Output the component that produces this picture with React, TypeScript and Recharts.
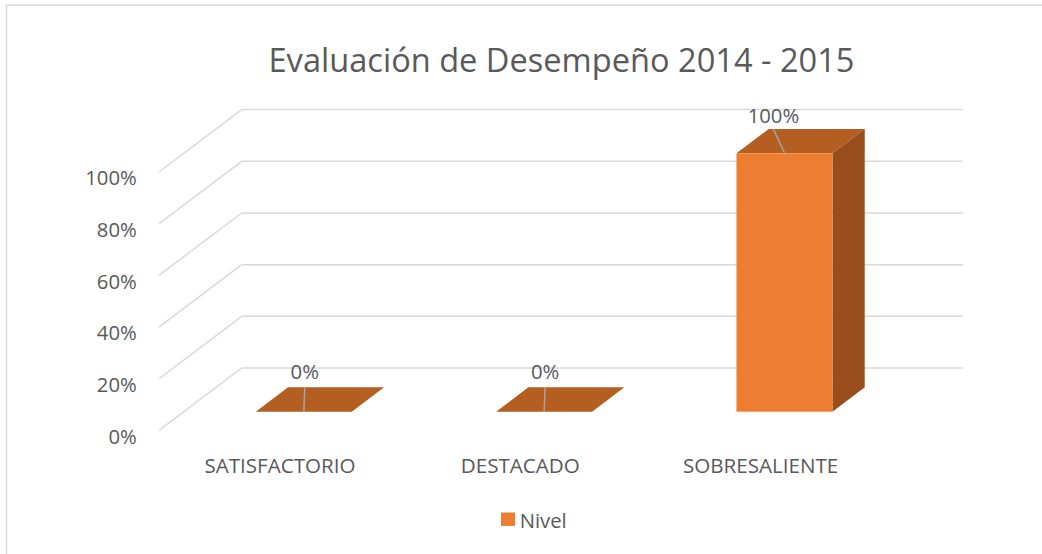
import React from 'react';
import { BarChart, Bar, XAxis, YAxis, CartesianGrid, Legend, LabelList } from 'recharts';

// ---- data ----
const categories = ['SATISFACTORIO', 'DESTACADO', 'SOBRESALIENTE'];
const nivel = [0, 0, 1];
const yTicks = [0, 0.2, 0.4, 0.6, 0.8, 1];
const seriesName = 'Nivel';
const chartTitle = 'Evaluación de Desempeño 2014 - 2015';

const data = categories.map((c, i) => ({ name: c, [seriesName]: nivel[i] }));

// ---- style ----
const FONT = "'Open Sans', sans-serif";
const TEXT = '#595959';
const GRID = '#D9D9D9';
const FRONT = '#ED7D31';
const TOP = '#B55E22';
const SIDE = '#994C1C';
const LEADER = '#A6A6A6';

// 3D projection of floor depth (back wall -> front edge)
const FLOOR_DX = 82.7;
const FLOOR_DY = 62.4;
const FRONT_FRAC = 0.7; // bar front plane measured from back wall
const BACK_FRAC = 0.31; // bar back plane measured from back wall
const wallDx = FLOOR_DX * FRONT_FRAC;
const wallDy = FLOOR_DY * FRONT_FRAC;
const frontDx = FLOOR_DX * (1 - FRONT_FRAC);
const frontDy = FLOOR_DY * (1 - FRONT_FRAC);
const barDx = FLOOR_DX * (FRONT_FRAC - BACK_FRAC);
const barDy = FLOOR_DY * (FRONT_FRAC - BACK_FRAC);

const pct = (v: number) => `${Math.round(v * 100)}%`;

const gridLine = (p: any) => {
  const { x1, x2, y1, index } = p;
  const by = y1 - wallDy;
  const bx1 = x1 + wallDx;
  return (
    <g key={`grid-${index}-${y1}`}>
      <line x1={bx1} y1={by} x2={x2 + wallDx} y2={by} stroke={GRID} strokeWidth={1.5} />
      <line x1={bx1} y1={by} x2={x1 - frontDx} y2={y1 + frontDy} stroke={GRID} strokeWidth={1.5} />
    </g>
  );
};

const Bar3D = (p: any) => {
  const { x, y, width: w, height: h } = p;
  if (x == null || y == null) return null;
  const hh = Math.max(0, h || 0);
  return (
    <g>
      <polygon
        points={`${x},${y} ${x + w},${y} ${x + w + barDx},${y - barDy} ${x + barDx},${y - barDy}`}
        fill={TOP}
      />
      {hh > 0 && (
        <polygon
          points={`${x + w},${y} ${x + w + barDx},${y - barDy} ${x + w + barDx},${y + hh - barDy} ${x + w},${y + hh}`}
          fill={SIDE}
        />
      )}
      {hh > 0 && <rect x={x} y={y} width={w} height={hh} fill={FRONT} />}
    </g>
  );
};

const DataLabel = (p: any) => {
  const { x, y, width: w, height: h, value } = p;
  if (x == null || y == null) return null;
  const cx = x + w / 2;
  const tall = (h || 0) > 0;
  const topX = tall ? cx - 11 : cx + 1;
  return (
    <g>
      <line x1={cx} y1={y - 0.5} x2={topX} y2={y - 24} stroke={LEADER} strokeWidth={1.5} />
      <text
        x={topX}
        y={tall ? y - 30 : y - 32.5}
        textAnchor="middle"
        fontFamily={FONT}
        fontSize={20.3}
        fill={TEXT}
      >
        {pct(Number(value))}
      </text>
    </g>
  );
};

const XTick = (p: any) => (
  <text
    x={p.x - 24}
    y={p.y + 61.6}
    textAnchor="middle"
    fontFamily={FONT}
    fontSize={20.6}
    fill={TEXT}
  >
    {p.payload.value}
  </text>
);

const YTick = (p: any) => (
  <text x={p.x - 47} y={p.y + 32} textAnchor="end" fontFamily={FONT} fontSize={20.3} fill={TEXT}>
    {pct(p.payload.value)}
  </text>
);

const LegendContent = (p: any) => {
  const item = (p.payload && p.payload[0]) || { value: seriesName, color: FRONT };
  return (
    <svg width={100} height={30} style={{ display: 'block', overflow: 'visible' }}>
      <rect x={6} y={7.5} width={14} height={13.4} fill={FRONT} />
      <text x={24.7} y={23.3} fontFamily={FONT} fontSize={20.3} fill={TEXT}>
        {item.value}
      </text>
    </svg>
  );
};

export default function App() {
  return (
    <div
      style={{
        position: 'absolute',
        left: 0,
        top: 0,
        width: 1042,
        height: 554,
        overflow: 'hidden',
        background: '#ffffff',
      }}
    >
      <BarChart
        width={1042}
        height={554}
        data={data}
        margin={{ top: 153.3, right: 137.2, bottom: 112.3, left: 123.8 }}
      >
        <CartesianGrid vertical={false} horizontal={gridLine} stroke={GRID} />
        <XAxis
          dataKey="name"
          axisLine={false}
          tickLine={false}
          tickSize={0}
          tickMargin={0}
          height={30}
          interval={0}
          tick={XTick}
        />
        <YAxis
          domain={[0, 1]}
          ticks={yTicks}
          axisLine={false}
          tickLine={false}
          tickSize={0}
          tickMargin={0}
          width={60}
          tick={YTick}
        />
        <Legend
          layout="horizontal"
          verticalAlign="middle"
          align="center"
          wrapperStyle={{ left: 495, top: 505, width: 100, height: 30 }}
          content={LegendContent}
        />
        <Bar
          dataKey={seriesName}
          name={seriesName}
          fill={FRONT}
          barSize={96}
          shape={Bar3D}
          isAnimationActive={false}
        >
          <LabelList dataKey={seriesName} content={DataLabel} />
        </Bar>
      </BarChart>
      <svg
        width={1042}
        height={554}
        style={{ position: 'absolute', left: 0, top: 0, pointerEvents: 'none' }}
      >
        <line x1={6.5} y1={5} x2={6.5} y2={554} stroke={GRID} strokeWidth={1.5} />
        <line x1={6} y1={5} x2={1042} y2={5} stroke={GRID} strokeWidth={1.5} />
        <text x={561.5} y={71.5} textAnchor="middle" fontFamily={FONT} fontSize={32.6} fill={TEXT}>
          {chartTitle}
        </text>
      </svg>
    </div>
  );
}
